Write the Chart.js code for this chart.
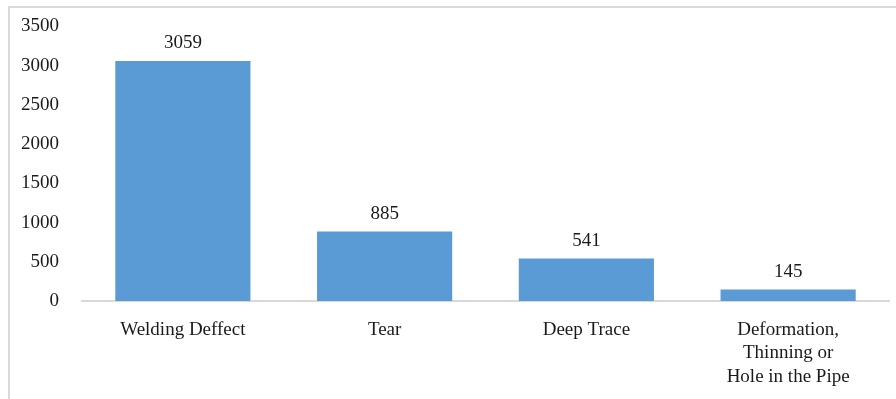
<!DOCTYPE html>
<html>
<head>
<meta charset="utf-8">
<script src="https://cdn.jsdelivr.net/npm/chart.js@4/dist/chart.umd.min.js"></script>
<style>
  html, body { margin: 0; padding: 0; background: #fff; overflow: hidden; }
  #frame {
    position: absolute; left: 8px; top: 6px; width: 900px; height: 400px;
    border-left: 2px solid #d9d9d9; border-top: 2px solid #d9d9d9;
  }
  #chart { position: absolute; left: 0; top: 0; }
</style>
</head>
<body>
<div id="frame"></div>
<canvas id="chart" width="896" height="399"></canvas>
<script>
// Defect types and counts
const categories = [
  'Welding Deffect',
  'Tear',
  'Deep Trace',
  ['Deformation,', 'Thinning or', 'Hole in the Pipe']
];
const counts = [3059, 885, 541, 145];
const yTicks = [0, 500, 1000, 1500, 2000, 2500, 3000, 3500];

const FONT = '"Liberation Serif", "Times New Roman", serif';
const TEXT = '#1a1a1a';

// value labels above each bar
const barValues = {
  id: 'barValues',
  afterDatasetsDraw(chart) {
    const ctx = chart.ctx;
    const meta = chart.getDatasetMeta(0);
    ctx.save();
    ctx.font = '19px ' + FONT;
    ctx.fillStyle = TEXT;
    ctx.textAlign = 'center';
    ctx.textBaseline = 'bottom';
    meta.data.forEach((bar, i) => {
      ctx.fillText(String(counts[i]), bar.x, bar.y - 8);
    });
    ctx.restore();
  }
};

new Chart(document.getElementById('chart'), {
  type: 'bar',
  data: {
    labels: categories,
    datasets: [{
      data: counts,
      backgroundColor: '#5b9bd5',
      borderWidth: 0,
      barPercentage: 0.67,
      categoryPercentage: 1
    }]
  },
  options: {
    responsive: false,
    animation: false,
    layout: { padding: { top: 16, right: 7, left: 0, bottom: 0 } },
    plugins: { legend: { display: false }, tooltip: { enabled: false } },
    scales: {
      x: {
        grid: { display: false },
        border: { display: true, color: '#d9d9d9', width: 2 },
        ticks: {
          color: TEXT, font: { family: FONT, size: 19, lineHeight: 1.24 },
          padding: 9, maxRotation: 0, autoSkip: false
        },
        afterFit(scale) { scale.height = 98; }
      },
      y: {
        min: 0, max: 3500,
        grid: { display: false },
        border: { display: false },
        afterBuildTicks(scale) { scale.ticks = yTicks.map(v => ({ value: v })); },
        ticks: {
          color: TEXT, font: { family: FONT, size: 19 }, padding: 15,
          callback: v => String(v)
        },
        afterFit(scale) { scale.width = 82; }
      }
    }
  },
  plugins: [barValues]
});
</script>
</body>
</html>
